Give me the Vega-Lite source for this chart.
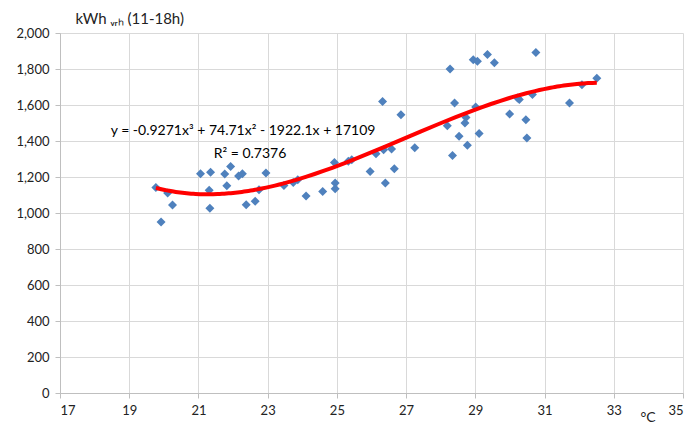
{
  "$schema": "https://vega.github.io/schema/vega-lite/v6.json",
  "width": 623,
  "height": 360,
  "autosize": "none",
  "padding": {"left": 60, "top": 33, "right": 9, "bottom": 30},
  "background": "white",
  "config": {
    "view": {"stroke": null},
    "font": "Lato",
    "axis": {
      "labelFont": "Lato", "labelFontSize": 13, "labelColor": "#222222", "labelOverlap": false,
      "titleFont": "Lato", "titleFontSize": 14, "titleFontWeight": "normal", "titleColor": "#222222",
      "gridColor": "#d9d9d9", "domainColor": "#bfbfbf", "tickColor": "#bfbfbf", "tickSize": 5
    }
  },
  "datasets": {
    "pts": [
      {"t": 19.77, "kwh": 1142}, {"t": 19.92, "kwh": 950}, {"t": 20.11, "kwh": 1111}, {"t": 20.25, "kwh": 1044},
      {"t": 21.06, "kwh": 1218}, {"t": 21.31, "kwh": 1126}, {"t": 21.33, "kwh": 1026}, {"t": 21.35, "kwh": 1226},
      {"t": 21.76, "kwh": 1217}, {"t": 21.82, "kwh": 1152}, {"t": 21.93, "kwh": 1259}, {"t": 22.16, "kwh": 1205},
      {"t": 22.27, "kwh": 1218}, {"t": 22.38, "kwh": 1046}, {"t": 22.64, "kwh": 1065}, {"t": 22.75, "kwh": 1129},
      {"t": 22.95, "kwh": 1222}, {"t": 23.47, "kwh": 1153}, {"t": 23.74, "kwh": 1170}, {"t": 23.87, "kwh": 1185},
      {"t": 24.11, "kwh": 1094}, {"t": 24.59, "kwh": 1120}, {"t": 24.93, "kwh": 1281}, {"t": 24.95, "kwh": 1167},
      {"t": 24.95, "kwh": 1135}, {"t": 25.33, "kwh": 1287}, {"t": 25.43, "kwh": 1296}, {"t": 25.96, "kwh": 1231},
      {"t": 26.13, "kwh": 1329}, {"t": 26.32, "kwh": 1620}, {"t": 26.35, "kwh": 1352}, {"t": 26.40, "kwh": 1167},
      {"t": 26.58, "kwh": 1356}, {"t": 26.66, "kwh": 1246}, {"t": 26.85, "kwh": 1546}, {"t": 27.25, "kwh": 1363},
      {"t": 28.19, "kwh": 1485}, {"t": 28.27, "kwh": 1800}, {"t": 28.34, "kwh": 1320}, {"t": 28.40, "kwh": 1611},
      {"t": 28.53, "kwh": 1426}, {"t": 28.70, "kwh": 1500}, {"t": 28.73, "kwh": 1531}, {"t": 28.77, "kwh": 1376},
      {"t": 28.94, "kwh": 1852}, {"t": 29.06, "kwh": 1843}, {"t": 29.01, "kwh": 1589}, {"t": 29.11, "kwh": 1441},
      {"t": 29.35, "kwh": 1881}, {"t": 29.55, "kwh": 1835}, {"t": 29.99, "kwh": 1550}, {"t": 30.22, "kwh": 1639},
      {"t": 30.27, "kwh": 1630}, {"t": 30.46, "kwh": 1518}, {"t": 30.49, "kwh": 1417}, {"t": 30.65, "kwh": 1659},
      {"t": 30.75, "kwh": 1891}, {"t": 31.72, "kwh": 1611}, {"t": 32.08, "kwh": 1713}, {"t": 32.51, "kwh": 1748}
    ],
    "notes": [
      {"t": 22.29, "kwh": 1457, "label": "y = -0.9271x³ + 74.71x² - 1922.1x + 17109"},
      {"t": 22.49, "kwh": 1329, "label": "R² = 0.7376"}
    ]
  },
  "encoding": {
    "x": {"field": "t", "type": "quantitative",
      "scale": {"domain": [17, 35], "nice": false, "zero": false},
      "axis": {"values": [17, 19, 21, 23, 25, 27, 29, 31, 33, 35], "title": "°C",
        "titleAngle": 0, "titleAlign": "left", "titleBaseline": "alphabetic", "titleX": 580, "titleY": 28,
        "labelPadding": 6, "titleFontSize": 14}},
    "y": {"field": "kwh", "type": "quantitative",
      "scale": {"domain": [0, 2000], "nice": false},
      "axis": {"values": [0, 200, 400, 600, 800, 1000, 1200, 1400, 1600, 1800, 2000], "format": ",.0f",
        "title": "kWh ᵥᵣₕ (11-18h)", "titleAngle": 0, "titleAlign": "left", "titleBaseline": "alphabetic",
        "titleX": 15, "titleY": -10, "titleFontSize": 15, "labelPadding": 6}}
  },
  "layer": [
    {
      "data": {"name": "pts"},
      "mark": {"type": "point", "shape": "diamond", "filled": true, "opacity": 1, "color": "#4F81BD", "size": 81}
    },
    {
      "data": {"name": "pts"},
      "transform": [{"regression": "kwh", "on": "t", "method": "poly", "order": 3, "extent": [19.77, 32.51]}],
      "mark": {"type": "line", "color": "#FF0000", "strokeWidth": 4}
    },
    {
      "data": {"name": "notes"},
      "mark": {"type": "text", "font": "Lato", "fontSize": 14, "color": "#000000", "align": "center", "baseline": "middle"},
      "encoding": {
        "text": {"field": "label"}
      }
    }
  ]
}
